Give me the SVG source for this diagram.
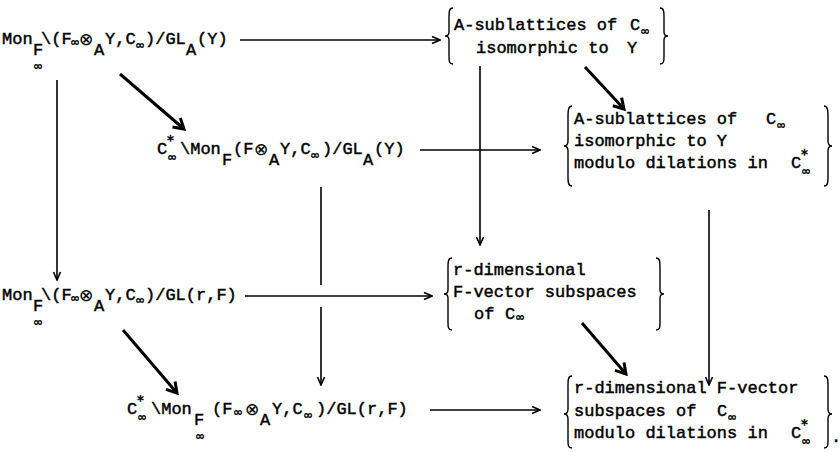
<svg xmlns="http://www.w3.org/2000/svg" width="840" height="452" viewBox="0 0 840 452">
<style>
.t{font-family:"Liberation Mono","DejaVu Sans Mono",monospace;font-size:17px;fill:#000;stroke:#000;stroke-width:0.45}
.i{font-family:"DejaVu Sans",sans-serif;font-size:12px}
.o{font-family:"DejaVu Sans",sans-serif;font-size:17px;stroke-width:0.2}
.st{font-family:"DejaVu Sans",sans-serif;font-size:14px}
.ln{stroke:#000;stroke-width:1.6;fill:none}
.bd{stroke:#000;stroke-width:3;fill:none}
.br{stroke:#000;stroke-width:1.4;fill:none}
</style>
<defs>
<marker id="a" markerWidth="10" markerHeight="10" refX="9" refY="5" orient="auto" markerUnits="userSpaceOnUse"><path d="M1,1.5 L9,5 L1,8.5" fill="none" stroke="#000" stroke-width="1.6"/></marker>
<marker id="b" markerWidth="16" markerHeight="16" refX="13" refY="8" orient="auto" markerUnits="userSpaceOnUse"><path d="M3,2 L13,8 L3,14" fill="none" stroke="#000" stroke-width="3"/></marker>
</defs>
<rect width="840" height="452" fill="#fff"/>

<g id="connectors">
<line class="ln" x1="240" y1="40" x2="440" y2="40" marker-end="url(#a)"/>
<line class="ln" x1="420" y1="150" x2="540" y2="150" marker-end="url(#a)"/>
<line class="ln" x1="245" y1="296" x2="432" y2="296" marker-end="url(#a)"/>
<line class="ln" x1="430" y1="410" x2="540" y2="410" marker-end="url(#a)"/>
<line class="ln" x1="57" y1="80" x2="57" y2="280" marker-end="url(#a)"/>
<line class="ln" x1="480" y1="66" x2="480" y2="245" marker-end="url(#a)"/>
<line class="ln" x1="321" y1="187" x2="321" y2="285"/>
<line class="ln" x1="321" y1="307" x2="321" y2="385" marker-end="url(#a)"/>
<line class="ln" x1="709" y1="210" x2="709" y2="385" marker-end="url(#a)"/>
<line class="bd" x1="120" y1="74" x2="184" y2="129" marker-end="url(#b)"/>
<line class="bd" x1="585" y1="67" x2="624" y2="109" marker-end="url(#b)"/>
<line class="bd" x1="123" y1="330" x2="177" y2="393" marker-end="url(#b)"/>
<line class="bd" x1="582" y1="323" x2="626" y2="374" marker-end="url(#b)"/>
</g>

<g id="n1">
<text class="t"><tspan x="2" y="44">Mon</tspan><tspan x="33" y="55">F</tspan><tspan class="i" x="33" y="70">∞</tspan><tspan x="41" y="44">\(F</tspan><tspan class="i" x="70" y="46">∞</tspan><tspan class="o" x="79" y="45">⊗</tspan><tspan x="94" y="55">A</tspan><tspan x="105" y="44">Y,C</tspan><tspan class="i" x="135" y="49">∞</tspan><tspan x="145" y="44">)/GL</tspan><tspan x="186" y="55">A</tspan><tspan x="197" y="44">(Y)</tspan></text>
</g>

<g id="n2">
<path class="br" d="M453,8 C449,8 449,12 449,18 L449,32 C449,35 448,36 445,36 C448,36 449,37 449,40 L449,56 C449,61 449,64 453,64"/>
<text class="t"><tspan x="454" y="30">A-sublattices of</tspan><tspan x="630" y="30">C</tspan><tspan class="i" x="640" y="35">∞</tspan><tspan x="476" y="53">isomorphic to</tspan><tspan x="627" y="53">Y</tspan></text>
<path class="br" d="M660,8 C664,8 664,12 664,18 L664,32 C664,35 665,36 668,36 C665,36 664,37 664,40 L664,56 C664,61 664,64 660,64"/>
</g>

<g id="n3">
<text class="t"><tspan x="157" y="154">C</tspan><tspan class="st" x="167" y="145">*</tspan><tspan class="i" x="167" y="161">∞</tspan><tspan x="180" y="154">\Mon</tspan><tspan x="222" y="165">F</tspan><tspan x="233" y="154">(F</tspan><tspan class="o" x="254" y="155">⊗</tspan><tspan x="269" y="165">A</tspan><tspan x="280" y="154">Y,C</tspan><tspan class="i" x="310" y="159">∞</tspan><tspan x="322" y="154">)/GL</tspan><tspan x="363" y="165">A</tspan><tspan x="374" y="154">(Y)</tspan></text>
</g>

<g id="n4">
<path class="br" d="M572,106 C568,106 568,111 568,118 L568,141 C568,144 567,146 564,146 C567,146 568,148 568,151 L568,176 C568,182 568,186 572,186"/>
<text class="t"><tspan x="574" y="124">A-sublattices of</tspan><tspan x="766" y="124">C</tspan><tspan class="i" x="776" y="129">∞</tspan><tspan x="574" y="146">isomorphic to  Y</tspan><tspan x="574" y="168">modulo dilations in</tspan><tspan x="791" y="168">C</tspan><tspan class="st" x="801" y="159">*</tspan><tspan class="i" x="801" y="175">∞</tspan></text>
<path class="br" d="M824,106 C828,106 828,111 828,118 L828,141 C828,144 829,146 832,146 C829,146 828,148 828,151 L828,176 C828,182 828,186 824,186"/>
</g>

<g id="n5">
<text class="t"><tspan x="2" y="300">Mon</tspan><tspan x="33" y="311">F</tspan><tspan class="i" x="33" y="326">∞</tspan><tspan x="41" y="300">\(F</tspan><tspan class="i" x="70" y="302">∞</tspan><tspan class="o" x="79" y="301">⊗</tspan><tspan x="94" y="311">A</tspan><tspan x="105" y="300">Y,C</tspan><tspan class="i" x="135" y="304">∞</tspan><tspan x="145" y="300">)/GL(r,F)</tspan></text>
</g>

<g id="n6">
<path class="br" d="M452,258 C448,258 448,262 448,268 L448,290 C448,293 447,294 444,294 C447,294 448,295 448,298 L448,322 C448,327 448,330 452,330"/>
<text class="t"><tspan x="453" y="275">r-dimensional</tspan><tspan x="453" y="297">F-vector subspaces</tspan><tspan x="474" y="319">of</tspan><tspan x="505" y="319">C</tspan><tspan class="i" x="515" y="321">∞</tspan></text>
<path class="br" d="M656,258 C660,258 660,262 660,268 L660,290 C660,293 661,294 664,294 C661,294 660,295 660,298 L660,322 C660,327 660,330 656,330"/>
</g>

<g id="n7">
<text class="t"><tspan x="127" y="414">C</tspan><tspan class="st" x="137" y="405">*</tspan><tspan class="i" x="137" y="421">∞</tspan><tspan x="151" y="414">\Mon</tspan><tspan x="194" y="425">F</tspan><tspan class="i" x="195" y="440">∞</tspan><tspan x="212" y="414">(F</tspan><tspan class="i" x="233" y="416">∞</tspan><tspan class="o" x="245" y="415">⊗</tspan><tspan x="260" y="425">A</tspan><tspan x="272" y="414">Y,C</tspan><tspan class="i" x="303" y="419">∞</tspan><tspan x="316" y="414">)/GL(r,F)</tspan></text>
</g>

<g id="n8">
<path class="br" d="M572,376 C568,376 568,380 568,386 L568,409 C568,412 567,414 564,414 C567,414 568,416 568,419 L568,440 C568,445 568,448 572,448"/>
<text class="t"><tspan x="574" y="393">r-dimensional F-vector</tspan><tspan x="574" y="416">subspaces of</tspan><tspan x="717" y="416">C</tspan><tspan class="i" x="727" y="421">∞</tspan><tspan x="574" y="438">modulo dilations in</tspan><tspan x="791" y="438">C</tspan><tspan class="st" x="801" y="429">*</tspan><tspan class="i" x="801" y="445">∞</tspan></text>
<path class="br" d="M824,376 C828,376 828,380 828,386 L828,409 C828,412 829,414 832,414 C829,414 828,416 828,419 L828,440 C828,445 828,448 824,448"/>
<text class="t" x="831" y="442">.</text>
</g>
</svg>
